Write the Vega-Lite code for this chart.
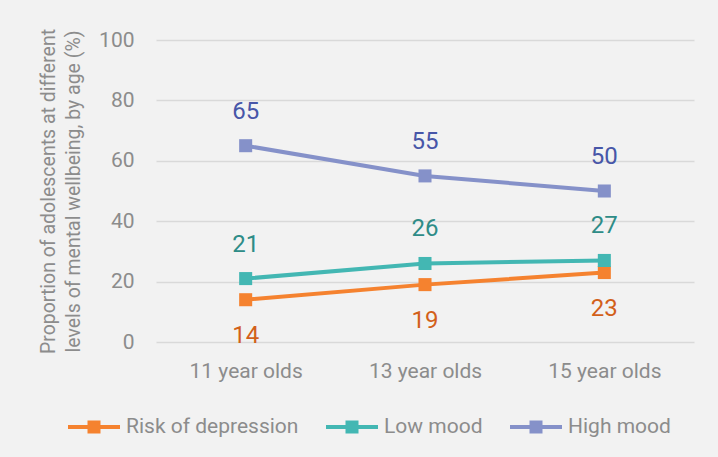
{
  "$schema": "https://vega.github.io/schema/vega-lite/v6.json",
  "width": 538,
  "height": 302,
  "autosize": {"type": "none"},
  "padding": {"left": 156, "top": 40, "right": 24, "bottom": 115},
  "background": "#f2f2f2",
  "config": {
    "font": "Roboto",
    "view": {"stroke": null},
    "axis": {"labelFont": "Roboto", "titleFont": "Roboto", "labelColor": "#8c8c8c", "titleColor": "#8c8c8c", "titleFontWeight": "normal"},
    "legend": {"labelFont": "Roboto"}
  },
  "data": {
    "values": [
      {"age": "11 year olds", "series": "Risk of depression", "value": 14},
      {"age": "13 year olds", "series": "Risk of depression", "value": 19},
      {"age": "15 year olds", "series": "Risk of depression", "value": 23},
      {"age": "11 year olds", "series": "Low mood", "value": 21},
      {"age": "13 year olds", "series": "Low mood", "value": 26},
      {"age": "15 year olds", "series": "Low mood", "value": 27},
      {"age": "11 year olds", "series": "High mood", "value": 65},
      {"age": "13 year olds", "series": "High mood", "value": 55},
      {"age": "15 year olds", "series": "High mood", "value": 50}
    ]
  },
  "encoding": {
    "x": {
      "field": "age", "type": "nominal", "sort": null, "title": null,
      "scale": {"type": "point", "padding": 0.5},
      "axis": {"labelAngle": 0, "labelFontSize": 21, "labelPadding": 18, "ticks": false, "domain": false, "grid": false}
    },
    "y": {
      "field": "value", "type": "quantitative",
      "scale": {"domain": [0, 100]},
      "title": ["Proportion of adolescents at different", "levels of mental wellbeing, by age (%)"],
      "axis": {"values": [0, 20, 40, 60, 80, 100], "labelFontSize": 21, "labelPadding": 22, "ticks": false, "domain": false, "gridColor": "#d9d9d9", "gridWidth": 1.5, "titleFontSize": 19.5, "titlePadding": 15, "titleLineHeight": 25}
    }
  },
  "layer": [
    {
      "mark": {"type": "line", "strokeWidth": 4, "point": {"shape": "square", "size": 170, "filled": true, "opacity": 1}},
      "encoding": {
        "color": {
          "field": "series", "type": "nominal",
          "scale": {"domain": ["Risk of depression", "Low mood", "High mood"], "range": ["#f5822f", "#43b7b3", "#8591c9"]},
          "legend": {
            "title": null, "orient": "none", "direction": "horizontal", "legendX": -88, "legendY": 361,
            "symbolType": "M-1,-0.08L1,-0.08L1,0.08L-1,0.08Z M-0.25,-0.25L0.25,-0.25L0.25,0.25L-0.25,0.25Z",
            "symbolSize": 2704, "symbolStrokeWidth": 0, "labelFontSize": 21, "labelColor": "#8c8c8c", "labelOffset": 6, "columnPadding": 27, "labelLimit": 300,
            "encode": {"symbols": {"update": {"fill": {"scale": "color", "field": "value"}, "fillOpacity": {"value": 1}}}}
          }
        }
      }
    },
    {
      "transform": [{"filter": "datum.series !== 'Risk of depression'"}],
      "mark": {"type": "text", "fontSize": 24, "dy": -34},
      "encoding": {
        "text": {"field": "value", "type": "quantitative"},
        "color": {"field": "series", "type": "nominal", "legend": null,
          "scale": {"domain": ["Risk of depression", "Low mood", "High mood"], "range": ["#d2601a", "#2e8c87", "#4756a8"]}}
      }
    },
    {
      "transform": [{"filter": "datum.series === 'Risk of depression'"}],
      "mark": {"type": "text", "fontSize": 24, "dy": 36},
      "encoding": {
        "text": {"field": "value", "type": "quantitative"},
        "color": {"field": "series", "type": "nominal", "legend": null,
          "scale": {"domain": ["Risk of depression", "Low mood", "High mood"], "range": ["#d2601a", "#2e8c87", "#4756a8"]}}
      }
    }
  ],
  "resolve": {"scale": {"color": "independent"}}
}
